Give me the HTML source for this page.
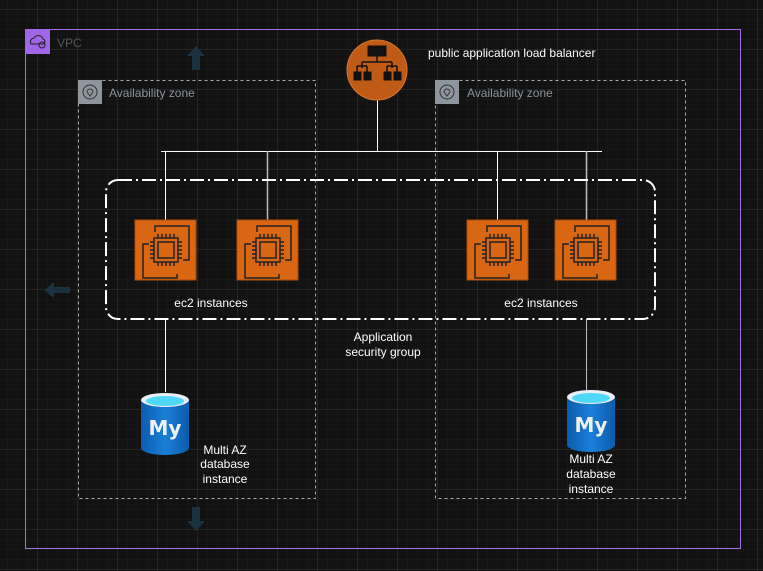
<!DOCTYPE html>
<html><head><meta charset="utf-8"><style>
html,body{margin:0;padding:0;background:#121212;}
svg{display:block}
text{font-family:"Liberation Sans",sans-serif;font-size:12px;}
</style></head><body>
<svg width="763" height="571" viewBox="0 0 763 571" xmlns="http://www.w3.org/2000/svg">
<defs>
<pattern id="minor" width="10" height="10" patternUnits="userSpaceOnUse" x="-2" y="0">
<path d="M10 0V10M0 10H10" stroke="#1d1d1d" stroke-width="1" fill="none"/>
</pattern>
<pattern id="major" width="40" height="40" patternUnits="userSpaceOnUse" x="-2.5" y="-30.5">
<path d="M40 0V40M0 40H40" stroke="#2c2c2c" stroke-width="1" fill="none"/>
</pattern>
<g id="ec2">
<rect x="0" y="0" width="61" height="60" fill="#d86613" stroke="#a84f0e" stroke-width="1"/>
<g fill="none" stroke="#222" stroke-width="1.5">
<path d="M20 12V6H54V40H48"/>
<path d="M42 54V58H8V24H14"/>
<rect x="19" y="18" width="24" height="24"/>
<rect x="23" y="22" width="16" height="16"/>
<path d="M23 14V18M27 14V18M31 14V18M35 14V18M39 14V18M23 42V46M27 42V46M31 42V46M35 42V46M39 42V46M15 22H19M15 26H19M15 30H19M15 34H19M15 38H19M43 22H47M43 26H47M43 30H47M43 34H47M43 38H47"/>
</g>
</g>
<g id="db">
<linearGradient id="dbg" x1="0" x2="1"><stop offset="0" stop-color="#0b5cad"/><stop offset="0.5" stop-color="#1a7fd8"/><stop offset="1" stop-color="#0b5cad"/></linearGradient>
<path d="M0 8V56A24 7 0 0 0 48 56V8Z" fill="url(#dbg)"/>
<ellipse cx="24" cy="8" rx="24" ry="7" fill="#e8eef5"/>
<ellipse cx="24" cy="9" rx="19" ry="5" fill="#4fd8f7"/>
<text x="24" y="43" text-anchor="middle" fill="#f0f0f0" style="font-size:20px;font-weight:bold;font-family:'DejaVu Sans',sans-serif">My</text>
</g>
</defs>
<rect width="763" height="571" fill="#121212"/>
<rect width="763" height="571" fill="url(#minor)"/>
<rect width="763" height="571" fill="url(#major)"/>

<g fill="#1a3240">
<path d="M196 46L205 56H200V70H192V56H187Z"/>
<path d="M44 290L54 282V287H70V293H54V298Z"/>
<path d="M196 531L205 521H200V507H192V521H187Z"/>
</g>

<rect x="25.5" y="29.5" width="715" height="519" fill="none" stroke="#a370e6" stroke-width="1"/>
<rect x="25" y="29" width="25" height="25" fill="#a166e8"/>
<path d="M31 44a4 4 0 0 1 3-6a5 5 0 0 1 9 1a3 3 0 0 1 1 5Z" fill="none" stroke="#222" stroke-width="1"/>
<circle cx="42" cy="45" r="3" fill="none" stroke="#222"/>
<text x="57" y="47" fill="#555" style="font-size:12px">VPC</text>

<rect x="78.5" y="80.5" width="237" height="418" fill="none" stroke="#aaa" stroke-dasharray="3 3"/>
<rect x="78" y="80" width="24" height="24" fill="#8f959c"/>
<circle cx="90" cy="92" r="7" fill="none" stroke="#333"/>
<path d="M90 96l-3-4a3 3 0 1 1 6 0z" fill="none" stroke="#333"/>
<text x="109" y="97" fill="#8d949c">Availability zone</text>

<rect x="435.5" y="80.5" width="250" height="418" fill="none" stroke="#aaa" stroke-dasharray="3 3"/>
<rect x="435" y="80" width="24" height="24" fill="#8f959c"/>
<circle cx="447" cy="92" r="7" fill="none" stroke="#333"/>
<path d="M447 96l-3-4a3 3 0 1 1 6 0z" fill="none" stroke="#333"/>
<text x="467" y="97" fill="#8d949c">Availability zone</text>

<g stroke="#fff" stroke-width="1" fill="none">
<path d="M377.5 100V151.5M161 151.5H602M165.5 151V220M497.5 151V220"/>
<path d="M267.5 151V220M586.5 151V220" stroke="#bbb" stroke-width="1.5"/>
<path d="M165.5 319V392"/>
<path d="M586.5 319V390" stroke="#bbb"/>
</g>

<rect x="106" y="180" width="549" height="139" rx="12" fill="none" stroke="#fff" stroke-width="2" stroke-dasharray="14 4 2 4"/>

<circle cx="377" cy="70" r="30" fill="#c05a17" stroke="#d9772e" stroke-width="1"/>
<g fill="#111" stroke="#111">
<rect x="368" y="46" width="18" height="10"/>
<path d="M377 56V62M362 62H392M362 62V68M392 62V68M357 66H367M387 66H397M357 66V72M367 66V72M387 66V72M397 66V72" fill="none" stroke-width="1.5"/>
<rect x="354" y="72" width="7" height="8"/><rect x="364" y="72" width="7" height="8"/>
<rect x="384" y="72" width="7" height="8"/><rect x="394" y="72" width="7" height="8"/>
</g>
<text x="428" y="57" fill="#fff">public application load balancer</text>

<use href="#ec2" x="135" y="220"/>
<use href="#ec2" x="237" y="220"/>
<use href="#ec2" x="467" y="220"/>
<use href="#ec2" x="555" y="220"/>

<text x="211" y="307" fill="#fff" text-anchor="middle">ec2 instances</text>
<text x="541" y="307" fill="#fff" text-anchor="middle">ec2 instances</text>
<text x="383" y="341" fill="#fff" text-anchor="middle">Application</text>
<text x="383" y="356" fill="#fff" text-anchor="middle">security group</text>

<use href="#db" x="141" y="392"/>
<use href="#db" x="567" y="389"/>

<g fill="#fff" text-anchor="middle">
<text x="225" y="454">Multi AZ</text>
<text x="225" y="468">database</text>
<text x="225" y="483">instance</text>
<text x="591" y="463">Multi AZ</text>
<text x="591" y="478">database</text>
<text x="591" y="493">instance</text>
</g>
</svg>
</body></html>
